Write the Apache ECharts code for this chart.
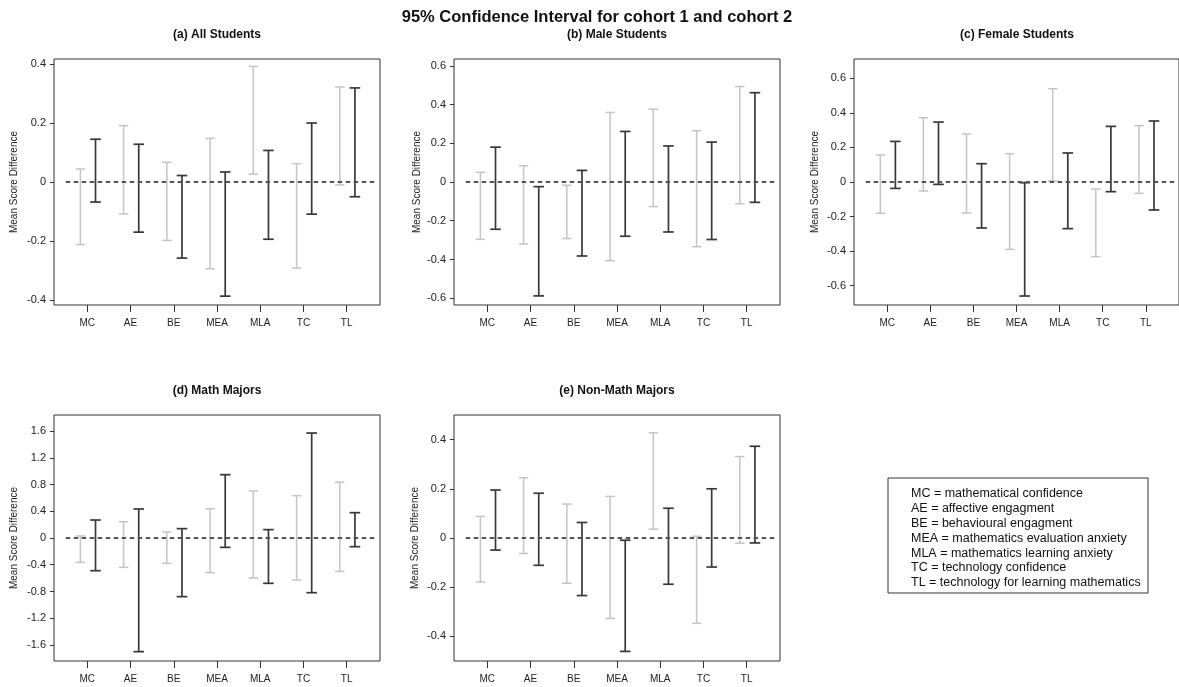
<!DOCTYPE html>
<html>
<head>
<meta charset="utf-8">
<script src="https://cdn.jsdelivr.net/npm/echarts@6/dist/echarts.min.js"></script>
<style>
html,body{margin:0;padding:0;background:#fff;}
#chart{width:1179px;height:687px;}
</style>
</head>
<body>
<div id="chart"></div>
<script>
// ---------- data ----------
const mainTitle = '95% Confidence Interval for cohort 1 and cohort 2';
const categories = ['MC', 'AE', 'BE', 'MEA', 'MLA', 'TC', 'TL'];
const legendLines = [
  'MC = mathematical confidence',
  'AE = affective engagment',
  'BE = behavioural engagment',
  'MEA = mathematics evaluation anxiety',
  'MLA = mathematics learning anxiety',
  'TC = technology confidence',
  'TL = technology for learning mathematics'
];

// (a) All Students
const allC1Low  = [-0.212, -0.108, -0.198, -0.294,  0.027, -0.292, -0.010];
const allC1High = [ 0.044,  0.191,  0.067,  0.148,  0.392,  0.062,  0.322];
const allC2Low  = [-0.068, -0.170, -0.258, -0.387, -0.194, -0.109, -0.050];
const allC2High = [ 0.145,  0.128,  0.022,  0.034,  0.107,  0.200,  0.319];
const allTicks  = [-0.4, -0.2, 0, 0.2, 0.4];

// (b) Male Students
const maleC1Low  = [-0.296, -0.320, -0.292, -0.406, -0.127, -0.334, -0.112];
const maleC1High = [ 0.050,  0.084, -0.017,  0.359,  0.376,  0.265,  0.493];
const maleC2Low  = [-0.244, -0.588, -0.382, -0.280, -0.258, -0.297, -0.105];
const maleC2High = [ 0.180, -0.024,  0.060,  0.261,  0.186,  0.206,  0.461];
const maleTicks  = [-0.6, -0.4, -0.2, 0, 0.2, 0.4, 0.6];

// (c) Female Students
const femC1Low  = [-0.181, -0.052, -0.179, -0.390,  0.006, -0.432, -0.066];
const femC1High = [ 0.156,  0.372,  0.278,  0.164,  0.540, -0.041,  0.326];
const femC2Low  = [-0.037, -0.014, -0.266, -0.660, -0.270, -0.056, -0.162];
const femC2High = [ 0.235,  0.347,  0.106, -0.004,  0.168,  0.322,  0.353];
const femTicks  = [-0.6, -0.4, -0.2, 0, 0.2, 0.4, 0.6];

// (d) Math Majors
const mathC1Low  = [-0.364, -0.439, -0.379, -0.518, -0.598, -0.628, -0.499];
const mathC1High = [ 0.030,  0.244,  0.090,  0.439,  0.703,  0.633,  0.833];
const mathC2Low  = [-0.489, -1.700, -0.877, -0.140, -0.678, -0.818, -0.130];
const mathC2High = [ 0.269,  0.434,  0.140,  0.947,  0.125,  1.570,  0.379];
const mathTicks  = [-1.6, -1.2, -0.8, -0.4, 0, 0.4, 0.8, 1.2, 1.6];

// (e) Non-Math Majors
const nonC1Low  = [-0.179, -0.063, -0.184, -0.327,  0.036, -0.347, -0.021];
const nonC1High = [ 0.088,  0.245,  0.138,  0.169,  0.428,  0.007,  0.331];
const nonC2Low  = [-0.049, -0.111, -0.234, -0.461, -0.188, -0.118, -0.020];
const nonC2High = [ 0.195,  0.182,  0.063, -0.009,  0.121,  0.200,  0.373];
const nonTicks  = [-0.4, -0.2, 0, 0.2, 0.4];

// ---------- layout ----------
const FONT = 'Liberation Sans, Arial, sans-serif';
const GW = 326, GH = 246;
const panels = [
  {title: '(a) All Students',     left: 54,  top: 59,  yMax: 0.417, ticks: allTicks,  c1l: allC1Low,  c1h: allC1High,  c2l: allC2Low,  c2h: allC2High,  nameGap: 35},
  {title: '(b) Male Students',    left: 454, top: 59,  yMax: 0.635, ticks: maleTicks, c1l: maleC1Low, c1h: maleC1High, c2l: maleC2Low, c2h: maleC2High, nameGap: 32},
  {title: '(c) Female Students',  left: 854, top: 59,  yMax: 0.712, ticks: femTicks,  c1l: femC1Low,  c1h: femC1High,  c2l: femC2Low,  c2h: femC2High,  nameGap: 34},
  {title: '(d) Math Majors',      left: 54,  top: 415, yMax: 1.84,  ticks: mathTicks, c1l: mathC1Low, c1h: mathC1High, c2l: mathC2Low, c2h: mathC2High, nameGap: 35},
  {title: '(e) Non-Math Majors',  left: 454, top: 415, yMax: 0.50,  ticks: nonTicks,  c1l: nonC1Low,  c1h: nonC1High,  c2l: nonC2Low,  c2h: nonC2High,  nameGap: 34}
];
const X_MIN = 0.23, X_MAX = 7.77;
const OFF1 = -0.16, OFF2 = 0.19;
const LIGHT = '#c4c4c4', DARK = '#383838';

function errRender(color, halfCap, lw) {
  return function (params, api) {
    const x = api.value(0);
    const p1 = api.coord([x, api.value(1)]);
    const p2 = api.coord([x, api.value(2)]);
    const st = {stroke: color, lineWidth: lw};
    return {
      type: 'group',
      children: [
        {type: 'line', shape: {x1: p1[0], y1: p1[1], x2: p2[0], y2: p2[1]}, style: st},
        {type: 'line', shape: {x1: p1[0] - halfCap, y1: p1[1], x2: p1[0] + halfCap, y2: p1[1]}, style: st},
        {type: 'line', shape: {x1: p2[0] - halfCap, y1: p2[1], x2: p2[0] + halfCap, y2: p2[1]}, style: st}
      ]
    };
  };
}

const grids = [], xAxes = [], yAxes = [], series = [], graphics = [];
const catPos = categories.map((c, i) => i + 1);

panels.forEach((p, k) => {
  grids.push({left: p.left, top: p.top, width: GW, height: GH, show: true,
    borderColor: '#333', borderWidth: 1, backgroundColor: 'transparent'});
  xAxes.push({
    type: 'value', gridIndex: k, min: X_MIN, max: X_MAX, position: 'bottom',
    axisLine: {show: false, onZero: false}, splitLine: {show: false},
    axisTick: {show: true, customValues: catPos, length: 7, inside: false, lineStyle: {color: '#333', width: 1}},
    axisLabel: {show: true, customValues: catPos, margin: 13, fontFamily: FONT, fontSize: 10, color: '#222',
      formatter: v => categories[Math.round(v) - 1] || ''}
  });
  yAxes.push({
    type: 'value', gridIndex: k, min: -p.yMax, max: p.yMax, position: 'left',
    name: 'Mean Score Difference', nameLocation: 'middle', nameGap: p.nameGap,
    nameTextStyle: {fontFamily: FONT, fontSize: 10, color: '#222'},
    axisLine: {show: false, onZero: false}, splitLine: {show: false},
    axisTick: {show: true, customValues: p.ticks, length: 4, inside: false, lineStyle: {color: '#333', width: 1}},
    axisLabel: {show: true, customValues: p.ticks, margin: 8, fontFamily: FONT, fontSize: 11, color: '#222',
      formatter: v => String(Math.round(v * 10) / 10)}
  });
  const d1 = categories.map((c, i) => [i + 1 + OFF1, p.c1l[i], p.c1h[i]]);
  const d2 = categories.map((c, i) => [i + 1 + OFF2, p.c2l[i], p.c2h[i]]);
  series.push({type: 'custom', xAxisIndex: k, yAxisIndex: k, renderItem: errRender(LIGHT, 4.7, 1.5),
    encode: {x: 0, y: [1, 2]}, data: d1, silent: true, z: 2});
  series.push({type: 'custom', xAxisIndex: k, yAxisIndex: k, renderItem: errRender(DARK, 5.3, 1.7),
    encode: {x: 0, y: [1, 2]}, data: d2, silent: true, z: 3});
  series.push({type: 'line', xAxisIndex: k, yAxisIndex: k, data: [[0.5, 0], [7.7, 0]],
    symbol: 'none', silent: true, z: 4,
    lineStyle: {color: '#555', width: 2, type: [4.5, 3.5]}});
  graphics.push({type: 'text', x: p.left + GW / 2, y: p.top - 24,
    style: {text: p.title, font: 'bold 12px ' + FONT, fill: '#111', textAlign: 'center', textVerticalAlign: 'middle'}});
});

graphics.push({type: 'text', x: 597, y: 17,
  style: {text: mainTitle, font: 'bold 16.5px ' + FONT, fill: '#111', textAlign: 'center', textVerticalAlign: 'middle'}});

graphics.push({type: 'rect', shape: {x: 888, y: 478, width: 260, height: 115},
  style: {fill: '#fff', stroke: '#333', lineWidth: 1}});
legendLines.forEach((t, i) => {
  graphics.push({type: 'text', x: 911, y: 494 + i * 14.8,
    style: {text: t, font: '12.5px ' + FONT, fill: '#111', textAlign: 'left', textVerticalAlign: 'middle'}});
});

const chart = echarts.init(document.getElementById('chart'), null, {renderer: 'canvas'});
chart.setOption({
  backgroundColor: '#ffffff',
  animation: false,
  grid: grids, xAxis: xAxes, yAxis: yAxes, series: series, graphic: graphics
});
</script>
</body>
</html>
